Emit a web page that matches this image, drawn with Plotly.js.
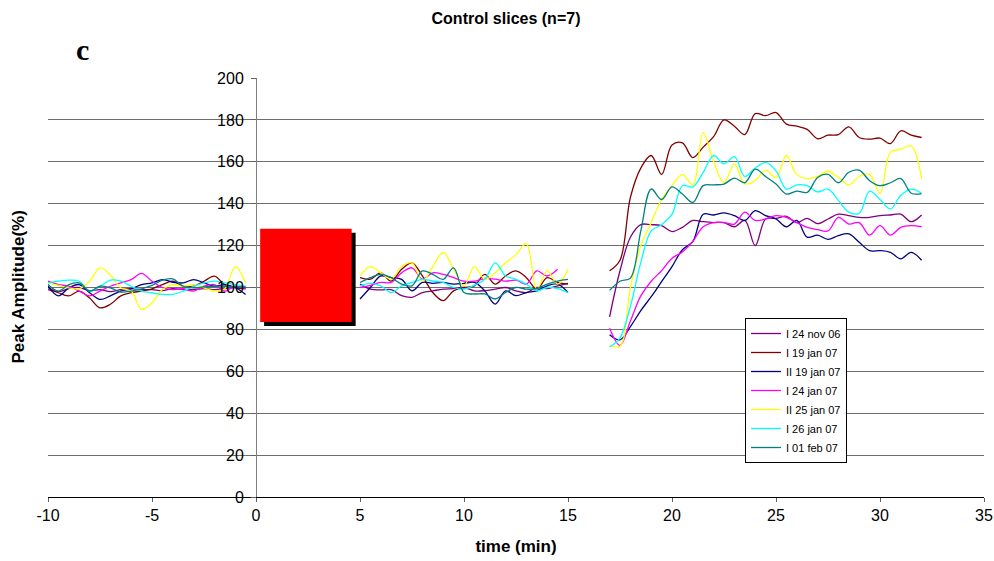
<!DOCTYPE html>
<html>
<head>
<meta charset="utf-8">
<script src="https://cdn.plot.ly/plotly-3.0.1.min.js"></script>
<style>html,body{margin:0;padding:0;background:#fff;}#chart{width:994px;height:561px;}</style>
</head>
<body>
<div id="chart"></div>
<script>
// time axes (min) of the three recording segments
const timeSeg1 = [-10,-9.5,-9,-8.5,-8,-7.5,-7,-6.5,-6,-5.5,-5,-4.5,-4,-3.5,-3,-2.5,-2,-1.5,-1,-0.5];
const timeSeg2 = [5,5.5,6,6.5,7,7.5,8,8.5,9,9.5,10,10.5,11,11.5,12,12.5,13,13.5,14,14.5,15];
const timeSeg3 = [17,17.5,18,18.5,19,19.5,20,20.5,21,21.5,22,22.5,23,23.5,24,24.5,25,25.5,26,26.5,27,27.5,28,28.5,29,29.5,30,30.5,31,31.5,32];

// x tick labels (hyphen-minus as in the original)
const xTickVals = [-10,-5,0,5,10,15,20,25,30,35];
const xTickText = ["-10","-5","0","5","10","15","20","25","30","35"];

const seriesNames = ["I 24 nov 06","I 19 jan 07","II 19 jan 07","I 24 jan 07","II 25 jan 07","I 26 jan 07","I 01 feb 07"];
const seriesColors = ["#800080","#800000","#000080","#FF00FF","#FFFF00","#00FFFF","#008080"];

// Peak amplitude (%) per slice
const nov24_I_seg1 = [99,98,99.5,100,98.5,99,98,99,99.5,99,99,98.5,99.5,99,99,99.5,99,99.5,100,100];
const nov24_I_seg2 = [101.6,99.2,98.9,99,96.1,95.3,97.6,98.4,99.2,99.5,100,98.4,98.5,99.2,100,98.4,97.6,100,99.5,100.8,102];
const nov24_I_seg3 = [86,108,124,130,130,129.5,126.7,128.7,132,131.4,131,131,129,132,120,132.7,133,134,131,133,130.5,132.7,135,134.3,133.5,133.5,134.3,134.6,135,131.4,134.6];

const jan19_I_seg1 = [100,97.5,96,98.3,95,90.3,92,96,97.5,98.3,99.4,101.4,103,100.6,100.6,103,105.4,101.4,100,99.4];
const jan19_I_seg2 = [104.7,104,107,103,108.7,111.8,105.5,97.6,93.7,98.4,100,100.8,106.3,101.6,105.5,107.9,104.7,99.2,104.7,102.4,101.6];
const jan19_I_seg3 = [108,113,143,157,163,154,168,169,162,167,172,180,177,173,183,182,183.5,178,177,175.5,171,172.7,173,176.7,171.6,170.8,171.3,168.7,174.8,172.7,171.6];

const jan19_II_seg1 = [100.6,96,99.8,101.4,97.5,94.3,96,98.3,99.4,101.4,102.2,103.8,102.5,102.2,103.8,102.2,100.6,101.4,100,96.7];
const jan19_II_seg2 = [94.5,100,105.5,104.7,103.9,98.4,102.4,102,102.4,101.6,102,102.4,98.4,92.1,98.4,96.1,97.6,98.4,100.8,101.6,97.6];
const jan19_II_seg3 = [77.5,75,81.3,89,95.6,102.8,110,118,121.9,135,134.6,135.6,134.3,132,136.7,134.3,132.7,129,132,124,125,123,124.8,125.6,121.6,117.6,117.6,116.8,113.7,116.8,113];

const jan24_I_seg1 = [103,101.4,100.6,98.3,96,98.3,100.6,102.2,103.8,106.7,103,100,99,99.4,98.3,100.6,101.4,98.3,100.6,99.4];
const jan24_I_seg2 = [100,101,102.4,102.4,107,109.4,104,107,106.3,104.7,103,103,104.3,104,103,103.5,101.6,107.9,105.5,108.7,null];
const jan24_I_seg3 = [80.6,72.4,84,96,103,108,114,117,122,129,131,131,130.3,136,132,132.7,134.3,133.5,131,128.7,127.6,127,133.5,130.3,131,125,129.5,125,128.7,129.5,129];

const jan25_II_seg1 = [102.2,101,99.8,99.4,103,109.4,106,99.8,98.3,89.5,92.7,99,101.4,100.6,101.4,99.8,98.3,99.4,110,102.2];
const jan25_II_seg2 = [105.5,110,107,104,110,111.8,103,110,116.8,108.7,100.8,110,104,107,111.8,115.7,121,99.2,107.9,101.6,108.7];
const jan25_II_seg3 = [72.4,72,100,120,131,142,148.6,154,149,174,160,150,159,149.5,151,156,152.5,163,154,152,153,155.5,152.5,149,153,154,145,164.5,166,167.6,152];

const jan26_I_seg1 = [102.2,103,103.5,103,98.3,100.6,103.5,103,100.6,98.3,97.5,96.7,96.7,98.3,100.6,102.2,103,102.2,101.4,100.6];
const jan26_I_seg2 = [100.8,102,100.8,97.6,100.8,102.4,103.9,103.1,102.4,100,99.2,101.1,103.9,111.8,105.5,103.9,101.6,98.4,100,99.5,97.6];
const jan26_I_seg3 = [71.6,76,91,112,127,130,135,148.6,148,155,163,159,162.5,153,157,159.7,155.7,147,149,148.6,145.6,147,141.6,136,135.4,146,142,137.5,144,147,145];

const feb01_I_seg1 = [101.4,98.3,101.4,102.2,98.3,100.6,99.8,97.8,98.3,99.4,101,103.5,104.1,100.6,99.8,100.3,100.6,100.6,100.3,100.3];
const feb01_I_seg2 = [102.4,104.7,106.3,104.7,101.6,100.8,107.9,106.3,103.9,109.4,97.6,96.9,96.9,94.5,97.6,100,99.2,99.5,101.6,103.1,103.9];
const feb01_I_seg3 = [98.6,103,104.5,127,147,142,148,144.6,140.6,148.6,149,149.4,152.2,150,156.5,153,149.4,144.6,146,145.4,152.5,154,150,155,156,151,148.6,150,152,145,144.8];

const allSeries = [
  [nov24_I_seg1, nov24_I_seg2, nov24_I_seg3],
  [jan19_I_seg1, jan19_I_seg2, jan19_I_seg3],
  [jan19_II_seg1, jan19_II_seg2, jan19_II_seg3],
  [jan24_I_seg1, jan24_I_seg2, jan24_I_seg3],
  [jan25_II_seg1, jan25_II_seg2, jan25_II_seg3],
  [jan26_I_seg1, jan26_I_seg2, jan26_I_seg3],
  [feb01_I_seg1, feb01_I_seg2, feb01_I_seg3]
];

// drug application box (min / %)
const boxX = [0.2, 4.6];
const boxY = [83.5, 128];

const xTime = timeSeg1.concat([null], timeSeg2, [null], timeSeg3);
const traces = allSeries.map((segs, i) => ({
  x: xTime,
  y: segs[0].concat([null], segs[1], [null], segs[2]),
  type: 'scatter',
  mode: 'lines',
  name: seriesNames[i],
  connectgaps: false,
  line: {color: seriesColors[i], width: 1.3, shape: 'spline', smoothing: 1}
}));

const W = 994, H = 561, L = 48, R = 10, T = 78, B = 64;
const xr = [-10, 35];
const yPos = (0 - xr[0]) / (xr[1] - xr[0]);
const font = 'Liberation Sans, Arial, sans-serif';

const layout = {
  width: W, height: H,
  margin: {l: L, r: R, t: T, b: B, pad: 0},
  paper_bgcolor: '#fff', plot_bgcolor: '#fff',
  showlegend: true,
  font: {family: font, color: '#000', size: 16},
  title: {text: '<b>Control slices (n=7)</b>', font: {family: font, size: 16, color: '#000'},
          xref: 'container', x: 506 / W, xanchor: 'center', yref: 'container', y: 1 - 18 / H, yanchor: 'middle'},
  xaxis: {
    range: xr, tickvals: xTickVals, ticktext: xTickText, showgrid: false, zeroline: false,
    showline: true, linecolor: '#000', linewidth: 1,
    ticks: 'outside', ticklen: 4, tickcolor: '#606060',
    tickfont: {family: font, size: 16, color: '#000'},
    title: {text: '<b>time (min)</b>', font: {family: font, size: 17, color: '#000'}, standoff: 16}
  },
  yaxis: {
    range: [0, 200], dtick: 20, anchor: 'free', position: yPos,
    showgrid: true, gridcolor: '#6e6e6e', gridwidth: 1, zeroline: false,
    showline: true, linecolor: '#808080', linewidth: 1,
    ticks: 'outside', ticklen: 5, tickcolor: '#606060', ticklabelstandoff: 4,
    tickfont: {family: font, size: 16, color: '#000'}
  },
  legend: {
    x: (745 - L) / (W - L - R), y: (H - B - 318) / (H - T - B), xanchor: 'left', yanchor: 'top',
    bgcolor: '#fff', bordercolor: '#000', borderwidth: 1,
    font: {family: font, size: 11, color: '#000'}, itemwidth: 30, tracegroupgap: 0
  },
  shapes: [
    {type: 'rect', xref: 'x', yref: 'y', layer: 'above',
     x0: boxX[0] + 0.19, x1: boxX[1] + 0.19, y0: boxY[0] - 1.9, y1: boxY[1] - 1.9,
     fillcolor: '#000', line: {width: 0}},
    {type: 'rect', xref: 'x', yref: 'y', layer: 'above',
     x0: boxX[0], x1: boxX[1], y0: boxY[0], y1: boxY[1],
     fillcolor: '#FF0000', line: {width: 0}}
  ],
  annotations: [
    {text: '<b>Peak Amplitude(%)</b>', xref: 'paper', yref: 'paper', x: (18 - L) / (W - L - R), y: 0.5,
     textangle: -90, showarrow: false, xanchor: 'center', yanchor: 'middle',
     font: {family: font, size: 17, color: '#000'}},
    {text: '<b>c</b>', xref: 'paper', yref: 'paper', x: (82 - L) / (W - L - R), y: (H - B - 50) / (H - T - B),
     showarrow: false, xanchor: 'center', yanchor: 'middle',
     font: {family: 'Liberation Serif, Times New Roman, serif', size: 30, color: '#000'}}
  ]
};

Plotly.newPlot('chart', traces, layout, {displayModeBar: false, staticPlot: true});
</script>
</body>
</html>
